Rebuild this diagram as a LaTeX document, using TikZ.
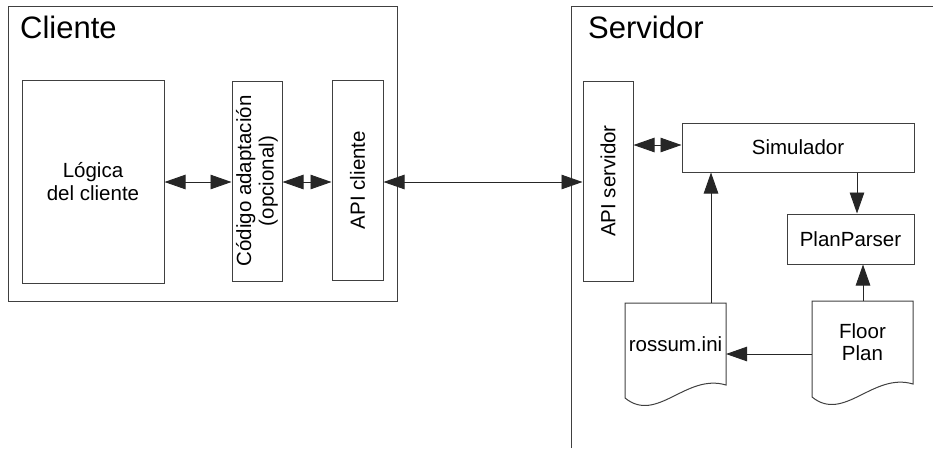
\documentclass[tikz,border=0pt]{standalone}
\usepackage{fontspec}
\setmainfont{Liberation Sans}
\usetikzlibrary{arrows.meta}
\definecolor{linegray}{gray}{0.25}
\tikzset{
  Tri/.tip={Triangle[length=21pt,width=14.5pt]},
  box/.style={draw=linegray, line width=1pt, inner sep=0pt, align=center,
    font=\fontsize{20.5}{22.5}\selectfont},
  hidden/.style={inner sep=0pt, outer sep=0pt},
  txt/.style={inner sep=0pt, align=center, font=\fontsize{20.5}{22.5}\selectfont},
  title/.style={inner sep=0pt, anchor=base west, font=\fontsize{31}{37}\selectfont},
  conn/.style={draw=black!85, line width=0.9pt},
  dbl/.style={conn, Tri-Tri},
  arr/.style={conn, -Tri},
  docline/.style={draw=linegray, line width=1pt},
}
\begin{document}
\begin{tikzpicture}[x=1pt,y=-1pt]
\useasboundingbox (0,0) rectangle (933,448);

% Cliente frame
\node[box, minimum width=389pt, minimum height=295pt] (cliente) at (202.5,153.5) {};
\node[title] (clientelbl) at (20,38) {Cliente};

% Servidor frame (open to the right and bottom)
\coordinate (srvbl) at (571,448);
\coordinate (srvtl) at (571,6);
\coordinate (srvtr) at (933,6);
\draw[draw=linegray, line width=1pt] (srvbl) -- (srvtl) -- (srvtr);
\node[title] (servidorlbl) at (588,38) {Servidor};

% client boxes
\node[box, minimum width=142pt, minimum height=203pt] (logica) at (93,181.5) {L\'ogica\\del cliente};
\node[box, minimum width=50pt, minimum height=200pt] (codigo) at (257,181) {};
\node[txt, rotate=90] (codigolbl) at (codigo.center) {C\'odigo adaptaci\'on\\(opcional)};
\node[box, minimum width=51pt, minimum height=200pt] (apic) at (357.5,180) {};
\node[txt, rotate=90] (apiclbl) at (apic.center) {API cliente};

% server boxes
\node[box, minimum width=50pt, minimum height=200pt] (apis) at (608,181) {};
\node[txt, rotate=90] (apislbl) at (apis.center) {API servidor};
\node[box, minimum width=232pt, minimum height=49pt] (sim) at (798,147.5) {Simulador};
\node[box, minimum width=127pt, minimum height=50pt] (pp) at (850.5,239) {PlanParser};

% documents
\node[hidden, minimum width=101pt, minimum height=95pt] (rossum) at (675.5,350.5) {};
\node[hidden, minimum width=101pt, minimum height=96pt] (floor) at (862.5,349) {};
\draw[docline] (rossum.north east) -- (rossum.north west) -- (rossum.south west)
  .. controls +(32pt,-26pt) and +(-40pt,12pt) .. ([yshift=13pt]rossum.south east) -- cycle;
\draw[docline] (floor.north east) -- (floor.north west) -- (floor.south west)
  .. controls +(32pt,-26pt) and +(-40pt,12pt) .. ([yshift=13pt]floor.south east) -- cycle;
\node[txt] (rossumlbl) at ([yshift=6pt]rossum.center) {rossum.ini};
\node[txt] (floorlbl) at ([yshift=7pt]floor.center) {Floor\\Plan};

% helper coordinates for connector positions
\coordinate (ycli) at (0,182);
\coordinate (ysim) at (0,145);
\coordinate (xsp) at (857,0);
\coordinate (xrs) at (711,0);
\coordinate (xfp) at (863,0);
\coordinate (yfr) at (0,354);

% connectors
\draw[dbl] (logica.east |- ycli) -- (codigo.west |- ycli);
\draw[dbl] (codigo.east |- ycli) -- (apic.west |- ycli);
\draw[dbl] (apic.east |- ycli) -- (apis.west |- ycli);
\draw[dbl] (apis.east |- ysim) -- (sim.west |- ysim);
\draw[arr] (sim.south -| xsp) -- (pp.north -| xsp);
\draw[arr] (rossum.north -| xrs) -- (sim.south -| xrs);
\draw[arr] (floor.north -| xfp) -- (pp.south -| xfp);
\draw[arr] (floor.west |- yfr) -- (rossum.east |- yfr);
\end{tikzpicture}
\end{document}
